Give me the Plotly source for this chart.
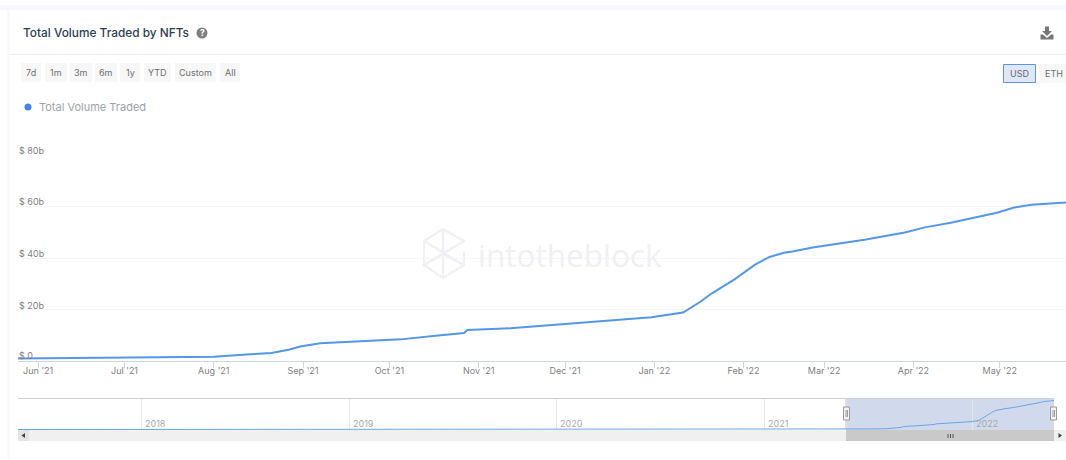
import plotly.graph_objects as go

W, H = 1066, 460

# Cumulative traded volume, in billions of USD
dates = ["2021-05-25", "2021-06-15", "2021-07-01", "2021-07-15", "2021-08-01", "2021-08-15",
         "2021-08-21", "2021-08-27", "2021-08-31", "2021-09-07", "2021-09-20", "2021-10-05",
         "2021-10-17", "2021-10-27", "2021-10-28", "2021-11-12", "2021-12-01", "2021-12-14",
         "2021-12-31", "2022-01-11", "2022-01-17", "2022-01-21", "2022-01-25", "2022-01-29",
         "2022-02-05", "2022-02-10", "2022-02-15", "2022-02-18", "2022-02-25", "2022-03-15",
         "2022-03-29", "2022-04-05", "2022-04-14", "2022-04-23", "2022-04-30", "2022-05-06",
         "2022-05-12", "2022-05-24"]
volume = [1.0, 1.15, 1.2, 1.3, 1.65, 2.7,
          3.1, 4.4, 5.6, 6.9, 7.6, 8.4,
          9.8, 10.9, 12.0, 12.7, 14.4, 15.6,
          17.0, 18.8, 23.0, 26.3, 29.0, 31.8,
          37.4, 40.4, 42.0, 42.5, 44.1, 47.1,
          49.9, 51.9, 53.7, 55.8, 57.6, 59.6,
          60.7, 61.6]

# Earlier history shown only in the navigator strip
early_dates = ["2017-05-29", "2018-06-01", "2019-06-01", "2020-06-01", "2021-01-01"]
early_volume = [0.0, 0.0, 0.05, 0.1, 0.4]

y_ticks = [0, 20, 40, 60, 80]
y_labels = ["$ 0", "$ 20b", "$ 40b", "$ 60b", "$ 80b"]
x_ticks = ["2021-06-01", "2021-07-01", "2021-08-01", "2021-09-01", "2021-10-01", "2021-11-01",
           "2021-12-01", "2022-01-01", "2022-02-01", "2022-03-01", "2022-04-01", "2022-05-01"]
x_labels = ["Jun '21", "Jul '21", "Aug '21", "Sep '21", "Oct '21", "Nov '21",
            "Dec '21", "Jan '22", "Feb '22", "Mar '22", "Apr '22", "May '22"]
years = ["2018-01-01", "2019-01-01", "2020-01-01", "2021-01-01", "2022-01-01"]
year_labels = ["2018", "2019", "2020", "2021", "2022"]
range_buttons = [("7d", 21, 41), ("1m", 45, 67), ("3m", 70, 92), ("6m", 95, 117), ("1y", 120, 140),
                 ("YTD", 144, 171), ("Custom", 175, 216), ("All", 220, 240)]

FONT = "Inter, sans-serif"
LINE = "#5596e6"
AXIS = "#ccd6eb"


def px(x):
    return x / W


def py(y):
    return 1 - y / H


def rect(x0, y0, x1, y1, fill, line=None, width=1, layer="below"):
    return dict(type="rect", xref="paper", yref="paper", x0=px(x0), x1=px(x1), y0=py(y0), y1=py(y1),
                fillcolor=fill, line=dict(color=line or fill, width=width if line else 0), layer=layer)


def seg(x0, y0, x1, y1, color, width=1, layer="below"):
    return dict(type="line", xref="paper", yref="paper", x0=px(x0), x1=px(x1), y0=py(y0), y1=py(y1),
                line=dict(color=color, width=width), layer=layer)


def path(points, fill, line_color=None, width=0, close=True, layer="above"):
    d = "M " + " L ".join(f"{px(x):.5f},{py(y):.5f}" for x, y in points) + (" Z" if close else "")
    return dict(type="path", xref="paper", yref="paper", path=d,
                fillcolor=fill, line=dict(color=line_color or fill, width=width), layer=layer)


def label(x, y, text, size=10, color="#777777", anchor="left", weight=400, family=FONT):
    return dict(xref="paper", yref="paper", x=px(x), y=py(y), text=text, showarrow=False,
                xanchor=anchor, yanchor="middle", borderpad=0,
                font=dict(family=family, size=size, color=color, weight=weight))


shapes = [
    # page tint around the card
    rect(0, 5, W, 10, "#f6f7fd"),
    rect(7.5, 10, 9.5, H, "#f6f7fd"),
    # header divider
    seg(9.5, 54.5, W, 54.5, "#ececec"),
    # help badge and legend dot
    dict(type="circle", xref="paper", yref="paper", x0=px(196.5), x1=px(207.5), y0=py(38.5), y1=py(27.5),
         fillcolor="#808080", line=dict(width=0), layer="below"),
    dict(type="circle", xref="paper", yref="paper", x0=px(24.5), x1=px(31.5), y0=py(110.5), y1=py(103.5),
         fillcolor="#3f86e4", line=dict(width=0), layer="below"),
    # download icon
    path([(1045, 26.5), (1049, 26.5), (1049, 31), (1052, 31), (1047, 36), (1042, 31), (1045, 31)], "#777777"),
    path([(1040.5, 34.5), (1043, 34.5), (1047, 38), (1051, 34.5), (1053.5, 34.5), (1053.5, 39.5), (1040.5, 39.5)], "#777777"),
    # currency toggle
    rect(1003.5, 64.5, 1035.5, 82.5, "#e1e8f5", "#5b93ea", 1),
    rect(1039, 64, W, 83, "#f7f7f7"),
    # navigator frame and scrollbar
    seg(18, 398.5, 1054, 398.5, "#d0d0d0"),
    rect(18, 430, W, 441, "#f0f0f0"),
    rect(18, 430, 29, 441, "#e4e4e4"),
    rect(846, 430, 1054, 441, "#c9c9c9"),
    path([(25, 433), (25, 438), (21.5, 435.5)], "#444444"),
    path([(1058.5, 433), (1058.5, 438), (1062, 435.5)], "#444444"),
    seg(948, 434, 948, 438, "#555555"), seg(950.5, 434, 950.5, 438, "#555555"), seg(953, 434, 953, 438, "#555555"),
    # selected window in the navigator, placed on its date axis
    dict(type="rect", xref="x2", yref="paper", x0=dates[0], x1=dates[-1], y0=py(430), y1=py(399),
         fillcolor="rgba(172,188,222,0.55)", line=dict(width=0), layer="below"),
    seg(846, 399, 846, 430, "#c4c4c4", 1, "below"),
    # navigator handles
    rect(843.5, 407, 849.5, 420, "#f4f4f4", "#9a9a9a", 1, "above"),
    seg(846, 410, 846, 417, "#9a9a9a", 1, "above"), seg(847.5, 410, 847.5, 417, "#9a9a9a", 1, "above"),
    rect(1050.5, 407, 1056.5, 420, "#f4f4f4", "#9a9a9a", 1, "above"),
    seg(1053, 410, 1053, 417, "#9a9a9a", 1, "above"), seg(1054.5, 410, 1054.5, 417, "#9a9a9a", 1, "above"),
]

# Watermark mark: stacked isometric outline
WM = "#eff0f5"
for pts in [
    [(424, 241), (443, 229), (464, 241), (424, 265), (443, 278), (464, 265), (464, 252)],
    [(424, 241), (464, 265), (443, 254), (424, 265), (424, 241)],
    [(443, 229), (443, 251)],
    [(443, 256), (443, 278)],
]:
    shapes.append(path(pts, "rgba(0,0,0,0)", WM, 2.2, close=False, layer="below"))

for text, x0, x1 in range_buttons:
    shapes.append(rect(x0, 63, x1, 82, "#f7f7f7"))

annotations = [
    label(22, 33, "Total Volume Traded by NFTs", 11.85, "#2c3e50", weight=500),
    label(202, 33, "?", 8.5, "#ffffff", "center", 700),
    label(38, 107, "Total Volume Traded", 11, "#9ba3a8"),
    label(1019.5, 73.5, "USD", 9, "#5f6b7a", "center"),
    label(1054, 73.5, "ETH", 9, "#6f6f6f", "center"),
    label(569.5, 254, "intotheblock", 31.5, WM, "center", family="'Open Sans', sans-serif"),
]
for text, x0, x1 in range_buttons:
    annotations.append(label((x0 + x1) / 2, 73, text, 9, "#707070", "center"))
for year, text in zip(years, year_labels):
    annotations.append(dict(xref="x2", yref="paper", x=year, y=py(423), text=text, showarrow=False,
                            xanchor="left", xshift=1.5, yanchor="middle",
                            font=dict(family=FONT, size=9, color="#a8a8a8")))
# Value labels sit just above their gridlines at the left edge of the plot
for tick, text in zip(y_ticks, y_labels):
    annotations.append(dict(xref="paper", yref="y", x=px(17), y=tick, text=text, showarrow=False,
                            xanchor="left", yanchor="middle", yshift=6 if tick == 0 else 4.5,
                            font=dict(family=FONT, size=9, color="#7f7f7f")))

fig = go.Figure()
fig.add_trace(go.Scatter(x=dates, y=volume, mode="lines", name="Total Volume Traded",
                         line=dict(color=LINE, width=2), xaxis="x", yaxis="y",
                         hoverinfo="skip", showlegend=False, cliponaxis=True))
fig.add_trace(go.Scatter(x=early_dates + dates, y=early_volume + volume, mode="lines",
                         line=dict(color="#6fa3e4", width=1), xaxis="x2", yaxis="y2",
                         hoverinfo="skip", showlegend=False))

fig.update_layout(
    width=W, height=H, autosize=False,
    margin=dict(l=0, r=0, t=0, b=0),
    paper_bgcolor="#ffffff", plot_bgcolor="rgba(0,0,0,0)",
    showlegend=False,
    font=dict(family=FONT),
    shapes=shapes,
    annotations=annotations,
    xaxis=dict(domain=[px(18), 1], range=[dates[0], dates[-1]], anchor="y",
               tickmode="array", tickvals=x_ticks, ticktext=x_labels,
               ticks="outside", ticklen=6, tickcolor=AXIS, tickwidth=1, ticklabelstandoff=-5,
               showline=True, linecolor=AXIS, linewidth=1, showgrid=False, zeroline=False,
               tickfont=dict(family=FONT, size=9, color="#808080"), tickangle=0),
    yaxis=dict(domain=[py(361), py(155)], range=[0, 80], anchor="x",
               tickmode="array", tickvals=y_ticks, showticklabels=False, ticks="",
               showline=False, showgrid=True, gridcolor="#f5f5f5", gridwidth=1, zeroline=False),
    xaxis2=dict(domain=[px(18), px(1054)], range=[early_dates[0], dates[-1]], anchor="y2",
                tickmode="array", tickvals=years, showticklabels=False, ticks="",
                showline=False, showgrid=True, gridcolor="#e6e6e6", gridwidth=1, zeroline=False),
    yaxis2=dict(domain=[py(430), py(399)], range=[-1, 65], anchor="x2",
                showticklabels=False, ticks="", showline=False, showgrid=False, zeroline=False),
)

fig.write_html("out.html", config=dict(displayModeBar=False, staticPlot=True))
